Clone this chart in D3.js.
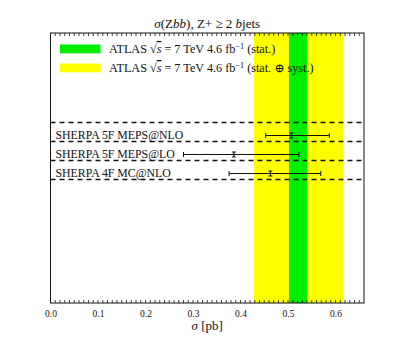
<!DOCTYPE html>
<html><head><meta charset="utf-8">
<script src="https://cdn.jsdelivr.net/npm/d3@7"></script>
<style>
body{margin:0;background:#fff;}
text{font-family:"Liberation Serif","DejaVu Serif",serif;fill:#111;}
</style></head>
<body><svg id="c" width="405" height="337"></svg>
<script>
// ---- data ----
const predictions = ["SHERPA 5F MEPS@NLO", "SHERPA 5F MEPS@LO", "SHERPA 4F MC@NLO"];
const predCentral = [0.507, 0.386, 0.463];
const predLow = [0.453, 0.280, 0.376];
const predHigh = [0.587, 0.523, 0.569];
const predStat = [0.004, 0.004, 0.004];
const atlasStat = [0.502, 0.540];
const atlasTotal = [0.428, 0.616];
const xTicks = [0.0, 0.1, 0.2, 0.3, 0.4, 0.5, 0.6];
const xDomain = [0, 0.66];

// ---- layout ----
const svg = d3.select("#c");
const L = 50.5, R = 364, T = 33, B = 303;
const x = d3.scaleLinear().domain(xDomain).range([L, R]);
const y = d3.scaleLinear().domain([0, 14.2]).range([T, B]);
const rowLine = i => 4.7 + i;      // dashed line above row i
const rowCenter = i => 5.35 + i;

// bands
svg.append("rect").attr("x", x(atlasTotal[0])).attr("y", T)
  .attr("width", x(atlasTotal[1]) - x(atlasTotal[0])).attr("height", B - T).attr("fill", "#ffff00");
svg.append("rect").attr("x", x(atlasStat[0])).attr("y", T)
  .attr("width", x(atlasStat[1]) - x(atlasStat[0])).attr("height", B - T).attr("fill", "#00ee00");

// dashed separators
const lines = d3.range(predictions.length + 1);
svg.selectAll("line.sep").data(lines).join("line").attr("class", "sep")
  .attr("x1", L).attr("x2", R)
  .attr("y1", d => Math.round(y(rowLine(d))) + 0.5).attr("y2", d => Math.round(y(rowLine(d))) + 0.5)
  .attr("stroke", "#111").attr("stroke-width", 1.3).attr("stroke-dasharray", "5,4");

// predictions
const rows = predictions.map((p, i) => ({name: p, c: predCentral[i], lo: predLow[i], hi: predHigh[i], s: predStat[i], i}));
const g = svg.selectAll("g.row").data(rows).join("g").attr("class", "row");
g.append("text").attr("x", 55.5).attr("y", d => y(rowCenter(d.i)) + 4)
  .attr("font-size", 11.8).attr("fill", "#222").text(d => d.name);
const yy = d => Math.round(y(rowCenter(d.i))) + 0.5;
g.append("line").attr("x1", d => x(d.lo)).attr("x2", d => x(d.hi))
  .attr("y1", yy).attr("y2", yy).attr("stroke", "#111").attr("stroke-width", 1);
g.append("line").attr("x1", d => x(d.lo)).attr("x2", d => x(d.lo))
  .attr("y1", d => yy(d) - 2.5).attr("y2", d => yy(d) + 2.5).attr("stroke", "#111");
g.append("line").attr("x1", d => x(d.hi)).attr("x2", d => x(d.hi))
  .attr("y1", d => yy(d) - 2.5).attr("y2", d => yy(d) + 2.5).attr("stroke", "#111");
// central stat marker
g.append("line").attr("x1", d => x(d.c)).attr("x2", d => x(d.c))
  .attr("y1", d => yy(d) - 2.5).attr("y2", d => yy(d) + 2.5).attr("stroke", "#111").attr("stroke-width", 1.2);
g.append("line").attr("x1", d => x(d.c - d.s)).attr("x2", d => x(d.c + d.s))
  .attr("y1", d => yy(d) - 2.5).attr("y2", d => yy(d) - 2.5).attr("stroke", "#111");
g.append("line").attr("x1", d => x(d.c - d.s)).attr("x2", d => x(d.c + d.s))
  .attr("y1", d => yy(d) + 2.5).attr("y2", d => yy(d) + 2.5).attr("stroke", "#111");

// legend
const leg = [{col: "#00ee00", t: "(stat.)"}, {col: "#ffff00", t: "(stat. ⊕ syst.)"}];
const fs = 12.2;
leg.forEach((l, i) => {
  const ly = 44.5 + i * 19;
  svg.append("rect").attr("x", 60).attr("y", ly).attr("width", 40.5).attr("height", 8.8).attr("fill", l.col);
  const t = svg.append("text").attr("x", 109).attr("y", ly + 8.5).attr("fill", "#222");
  t.append("tspan").attr("font-size", fs).text("ATLAS √");
  t.append("tspan").attr("font-size", fs).attr("font-style", "italic").attr("text-decoration", "overline").text("s");
  t.append("tspan").attr("font-size", fs).text(" = 7 TeV 4.6 fb");
  t.append("tspan").attr("font-size", 8.2).attr("dy", -4.5).text("−1");
  t.append("tspan").attr("font-size", fs).attr("dy", 4.5).text(" " + l.t);
});

// ticks (top and bottom, inward)
const minor = d3.range(0, 66).map(k => k / 100);
svg.selectAll("line.tb").data(minor).join("line").attr("class", "tb")
  .attr("x1", d => x(d)).attr("x2", d => x(d)).attr("y1", B).attr("y2", B - 3)
  .attr("stroke", "#111").attr("stroke-width", 0.8);
svg.selectAll("line.tt").data(minor).join("line").attr("class", "tt")
  .attr("x1", d => x(d)).attr("x2", d => x(d)).attr("y1", T).attr("y2", T + 3)
  .attr("stroke", "#111").attr("stroke-width", 0.8);

// frame
svg.append("rect").attr("x", L).attr("y", T).attr("width", R - L).attr("height", B - T)
  .attr("fill", "none").attr("stroke", "#111").attr("stroke-width", 1);

// tick labels via axis
const ax = svg.append("g").attr("transform", `translate(0,${B})`)
  .call(d3.axisBottom(x).tickValues(xTicks).tickFormat(d3.format(".1f")).tickSize(0).tickPadding(7));
ax.select(".domain").remove();
ax.selectAll("text").attr("font-size", 9.5).attr("font-family", "Liberation Serif").attr("fill", "#333");

// title
const tt = svg.append("text").attr("x", (L + R) / 2).attr("y", 28).attr("text-anchor", "middle").attr("font-size", 13).attr("fill", "#222");
tt.append("tspan").attr("font-style", "italic").text("σ");
tt.append("tspan").text("(Z");
tt.append("tspan").attr("font-style", "italic").text("bb");
tt.append("tspan").text("), Z+ ≥ 2 ");
tt.append("tspan").attr("font-style", "italic").text("b");
tt.append("tspan").text("jets");

// x label
const xl = svg.append("text").attr("x", (L + R) / 2).attr("y", 330).attr("text-anchor", "middle").attr("font-size", 13).attr("fill", "#222");
xl.append("tspan").attr("font-style", "italic").text("σ");
xl.append("tspan").text(" [pb]");
</script></body></html>
